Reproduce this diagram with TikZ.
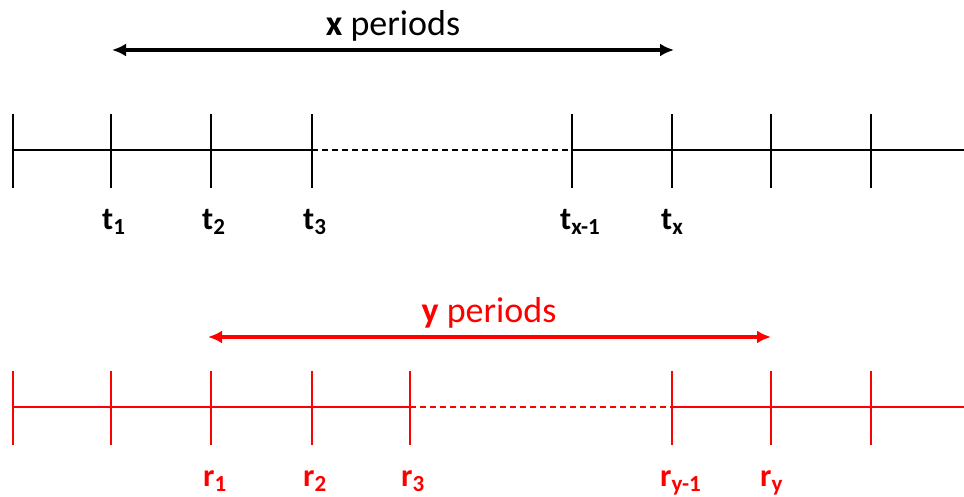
\documentclass[tikz,border=0pt]{standalone}
\usepackage{fontspec}
\setmainfont{Carlito}
\usetikzlibrary{arrows.meta}
\newcommand{\ticklab}[2]{\textbf{#1}\raisebox{-0.3ex}{\fontsize{23}{23}\selectfont\textbf{#2}}}

\begin{document}
\begin{tikzpicture}[x=1pt,y=1pt, font=\fontsize{32}{38}\selectfont,
    tickline/.style={line width=1.3pt},
    gapline/.style={line width=1.3pt, dash pattern=on 6pt off 4pt},
    span/.style={{Latex[length=14pt,width=13pt]}-{Latex[length=14pt,width=13pt]}, line width=3.5pt},
    periodlab/.style={anchor=base, font=\fontsize{36}{40}\selectfont}]
    \useasboundingbox (0,0) rectangle (964,497);
    % x periods
    \foreach \x in {13,111,211,312,572,672,771,871}
        \draw[tickline] (\x,309) -- (\x,383);
    \draw[tickline] (13,347) -- (312,347);
    \draw[gapline] (312,347) -- (572,347);
    \draw[tickline] (572,347) -- (964,347);
    \coordinate (xa) at (112,447);
    \coordinate (xb) at (674,447);
    \draw[span] (xa) -- (xb);
    \node[periodlab] (xlab) at (393,461) {\textbf{x} periods};
    \node[anchor=base west, inner sep=0] (t1) at (102,267) {\ticklab{t}{1}};
    \node[anchor=base west, inner sep=0] (t2) at (202,267) {\ticklab{t}{2}};
    \node[anchor=base west, inner sep=0] (t3) at (303,267) {\ticklab{t}{3}};
    \node[anchor=base west, inner sep=0] (txm) at (560,267) {\ticklab{t}{x-1}};
    \node[anchor=base west, inner sep=0] (tx) at (661,267) {\ticklab{t}{x}};
    % y periods
    \begin{scope}[red]
    \foreach \x in {13,111,211,312,410,672,771,871}
        \draw[tickline] (\x,52) -- (\x,126);
    \draw[tickline] (13,90) -- (410,90);
    \draw[gapline] (410,90) -- (672,90);
    \draw[tickline] (672,90) -- (964,90);
    \coordinate (ya) at (208,160);
    \coordinate (yb) at (771,160);
    \draw[span] (ya) -- (yb);
    \node[periodlab] (ylab) at (489,174) {\textbf{y} periods};
    \node[anchor=base west, inner sep=0] (r1) at (203,10) {\ticklab{r}{1}};
    \node[anchor=base west, inner sep=0] (r2) at (303,10) {\ticklab{r}{2}};
    \node[anchor=base west, inner sep=0] (r3) at (401,10) {\ticklab{r}{3}};
    \node[anchor=base west, inner sep=0] (rym) at (660,10) {\ticklab{r}{y-1}};
    \node[anchor=base west, inner sep=0] (ry) at (760,10) {\ticklab{r}{y}};
    \end{scope}
\end{tikzpicture}
\end{document}
